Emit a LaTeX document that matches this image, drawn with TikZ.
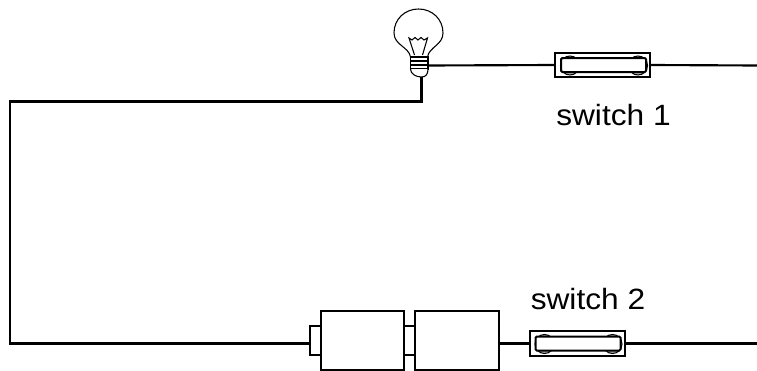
\documentclass[tikz,border=0pt]{standalone}
\usepackage{fontspec}
\setmainfont{Liberation Sans}
\newfontfamily\lblfont[FakeStretch=1.08]{Liberation Sans}
\begin{document}
\begin{tikzpicture}[x=0.75pt,y=-0.75pt,
  wire/.style={line width=1.6pt,black},
  lampline/.style={line width=0.8pt,black},
  part/.style={line width=1.5pt,draw=black,fill=white},
  lbl/.style={font=\lblfont\fontsize{22pt}{26pt}\selectfont,inner sep=0pt,anchor=base west},
  pin/.style={circle,draw=black,fill=gray!60,line width=0.8pt,minimum size=14.25pt,inner sep=0pt}]
\useasboundingbox (0,0) rectangle (757,371);
\coordinate (lampbot) at (421.5,77);
\coordinate (lampside) at (428,65.5);
\coordinate (corner1) at (10,101.5);
\coordinate (corner2) at (10,343.5);
\coordinate (endA) at (757,65.5);
\coordinate (endB) at (757,343.5);
\coordinate (batleft) at (310,343.5);
% named parts, geometry first
\node[part,minimum width=71.25pt,minimum height=18.4pt,inner sep=0pt] (sw1) at (602.5,65) {};
\node[part,minimum width=71.25pt,minimum height=18.4pt,inner sep=0pt] (sw2) at (577,343.5) {};
\node[part,minimum width=62.5pt,minimum height=44.5pt,inner sep=0pt] (b1) at (362.5,340.2) {};
\node[part,minimum width=63pt,minimum height=44.5pt,inner sep=0pt] (b2) at (456.5,340.2) {};
% wires
\draw[wire] (lampside) -- (sw1.west);
\draw[wire] (sw1.east) -- (endA);
\draw[wire] (lampbot) |- (corner1) -- (corner2) -- (batleft);
\draw[wire] (b2.east |- sw2.west) -- (sw2.west);
\draw[wire] (sw2.east) -- (endB);
% switch details
\node[pin] at (570,65.5) {};
\node[pin] at (638,65.5) {};
\node[part,minimum width=63.75pt,minimum height=10.5pt,inner sep=0pt,rounded corners=1pt] at (603.5,65) {};
\node[pin] at (544.5,344) {};
\node[pin] at (612.5,344) {};
\node[part,minimum width=63.75pt,minimum height=10.5pt,inner sep=0pt,rounded corners=1pt] at (578,343.5) {};
% battery terminals
\draw[part,fill=none] (b1.west |- 0,326) -- (310,326) -- (310,355) -- (b1.west |- 0,355);
\draw[part,fill=none] (b1.east |- 0,326) -- (b2.west |- 0,326);
\draw[part,fill=none] (b1.east |- 0,355) -- (b2.west |- 0,355);
% lamp
\draw[lampline,fill=white] (410.5,57) .. controls (409,47) and (394,45) .. (394,33) .. controls (394,19) and (405,9) .. (418.5,9) .. controls (432,9) and (443,19) .. (443,33) .. controls (443,45) and (429,47) .. (427.5,57);
\draw[lampline] (414.5,55) -- (409,38) -- (412,40) -- (415,37.5) -- (418,40) -- (421,37.5) -- (424,40) -- (427.5,38) -- (422.5,55);
\draw[lampline,fill=white] (410.5,57) rectangle (428,69);
\draw[lampline] (410.5,61) -- (428,61) (410.5,65) -- (428,65);
\draw[lampline,fill=white] (410.5,69) .. controls (410.5,74) and (416,77) .. (lampbot) .. controls (426,77) and (428,74) .. (428,69);
% labels
\node[lbl] (lab1) at (556,125) {switch 1};
\node[lbl] (lab2) at (530.5,309) {switch 2};
\end{tikzpicture}
\end{document}
